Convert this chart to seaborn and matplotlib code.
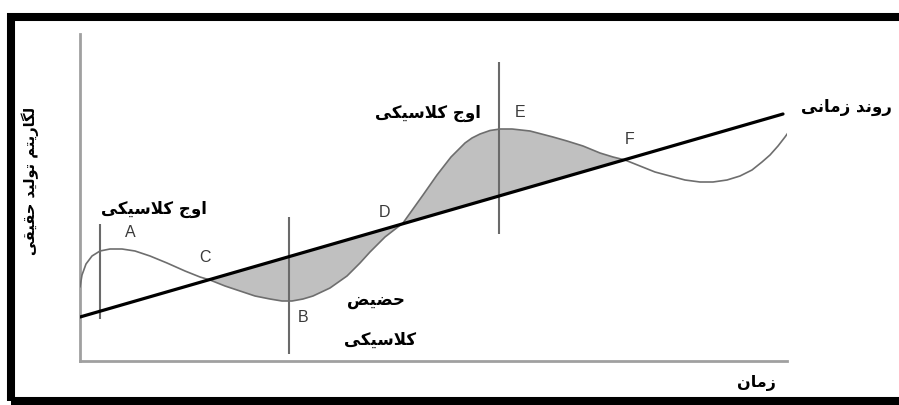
import numpy as np
import pandas as pd
import matplotlib
matplotlib.use("Agg")
import matplotlib.pyplot as plt
from matplotlib.patches import Rectangle
import seaborn as sns

# ---------------- data (arbitrary units) ----------------
cycle_time = [0, 2, 6, 12, 20, 30, 42, 55, 70, 87, 105, 120, 130, 145, 160, 175, 190,
              202, 212, 223, 233, 250, 267, 280, 290, 305, 323, 333, 343, 350, 357, 364,
              371, 378, 385, 392, 400, 410, 420, 432, 450, 473, 487, 503, 520, 533, 545,
              560, 575, 590, 605, 620, 633, 647, 660, 672, 682, 690, 698, 705, 710]
cycle_level = [74, 86, 97, 105, 110, 112, 112, 110, 105, 98, 90, 84, 81, 75, 70, 65, 62,
               60, 60, 62, 65, 73, 85, 98, 109, 124, 138, 152, 166, 176, 186, 195,
               204, 211, 218, 223, 227, 230.5, 232, 232, 230, 224, 220, 215, 208, 204, 201,
               195, 189, 185, 181, 179, 179, 181, 185, 191, 199, 206, 215, 224, 231]
trend_time = [0, 703]
trend_level = [44, 247]
shade_start = 12   # index of point C
shade_end = 46     # index of point F

turn_time = [20, 209, 419]          # vertical markers at A, B, E
turn_low = [42, 7, 127]
turn_high = [137, 144, 299]

point_labels = ["A", "C", "B", "D", "E", "F"]
point_time = [50, 125, 223, 305, 440, 550]
point_level = [129, 104, 44, 149, 249, 222]

peak_text = "اوج کلاسیکی"
trough_text_1 = "حضیض"
trough_text_2 = "کلاسیکی"
trend_text = "روند زمانی"
x_text = "زمان"
y_text = "لگاریتم تولید حقیقی"

# ---------------- minimal Persian shaping for matplotlib ----------------
FORMS = {
    'ا': ('\uFE8D', '\uFE8E', None, None),
    'د': ('\uFEA9', '\uFEAA', None, None),
    'ر': ('\uFEAD', '\uFEAE', None, None),
    'ز': ('\uFEAF', '\uFEB0', None, None),
    'و': ('\uFEED', '\uFEEE', None, None),
    'ت': ('\uFE95', '\uFE96', '\uFE97', '\uFE98'),
    'ج': ('\uFE9D', '\uFE9E', '\uFE9F', '\uFEA0'),
    'ح': ('\uFEA1', '\uFEA2', '\uFEA3', '\uFEA4'),
    'س': ('\uFEB1', '\uFEB2', '\uFEB3', '\uFEB4'),
    'ض': ('\uFEBD', '\uFEBE', '\uFEBF', '\uFEC0'),
    'ق': ('\uFED5', '\uFED6', '\uFED7', '\uFED8'),
    'ل': ('\uFEDD', '\uFEDE', '\uFEDF', '\uFEE0'),
    'م': ('\uFEE1', '\uFEE2', '\uFEE3', '\uFEE4'),
    'ن': ('\uFEE5', '\uFEE6', '\uFEE7', '\uFEE8'),
    'ک': ('\uFB8E', '\uFB8F', '\uFB90', '\uFB91'),
    'گ': ('\uFB92', '\uFB93', '\uFB94', '\uFB95'),
    'ی': ('\uFBFC', '\uFBFD', '\uFBFE', '\uFBFF'),
}


def fa(text):
    chars = list(text)
    n = len(chars)
    out = []
    i = 0
    while i < n:
        c = chars[i]
        if c not in FORMS:
            out.append(c)
            i += 1
            continue
        prev = chars[i - 1] if i > 0 else None
        join_prev = prev in FORMS and FORMS[prev][2] is not None
        if c == 'ل' and i + 1 < n and chars[i + 1] == 'ا':
            out.append('\uFEFC' if join_prev else '\uFEFB')
            i += 2
            continue
        nxt = chars[i + 1] if i + 1 < n else None
        iso, fin, ini, med = FORMS[c]
        join_next = ini is not None and nxt in FORMS
        if join_prev and join_next:
            out.append(med)
        elif join_prev:
            out.append(fin)
        elif join_next:
            out.append(ini)
        else:
            out.append(iso)
        i += 1
    return ''.join(reversed(out))


# ---------------- drawing ----------------
sns.set_theme(style="white")
plt.rcParams['font.family'] = ['DejaVu Sans']

fig = plt.figure(figsize=(8.99, 4.06), dpi=100)
fig.patch.set_facecolor("white")
ax = fig.add_axes([80 / 899, 44 / 406, 707 / 899, 327 / 406])
ax.set_xlim(0, 707)
ax.set_ylim(0, 327)
ax.set_facecolor("none")

cycle = pd.DataFrame({"time": cycle_time, "level": cycle_level})
trend = pd.DataFrame({"time": trend_time, "level": trend_level})

# shaded gap between cycle and trend (C .. F)
seg = cycle.iloc[shade_start:shade_end + 1]
ax.fill(seg["time"], seg["level"], color="#c0c0c0", lw=0, zorder=1)

sns.lineplot(data=cycle, x="time", y="level", ax=ax, color="#6e6e6e",
             linewidth=1.2, estimator=None, sort=False, zorder=3)
sns.lineplot(data=trend, x="time", y="level", ax=ax, color="black",
             linewidth=2.3, estimator=None, sort=False, zorder=4)
ax.vlines(turn_time, turn_low, turn_high, colors="#6a6a6a", linewidth=1.5, zorder=2)

for lab, t, l in zip(point_labels, point_time, point_level):
    ax.text(t, l, lab, fontsize=11.5, color="#3a3a3a", family="Liberation Sans",
            ha="center", va="center", zorder=5)

pkw = dict(fontweight="bold", color="black", ha="center", va="center",
           clip_on=False, zorder=5)
ax.text(74, 153, fa(peak_text), fontsize=12, **pkw)
ax.text(348, 249, fa(peak_text), fontsize=12, **pkw)
ax.text(296, 62, fa(trough_text_1), fontsize=12, **pkw)
ax.text(300, 22, fa(trough_text_2), fontsize=12, **pkw)
ax.text(766, 255, fa(trend_text), fontsize=12, **pkw)
ax.text(676, -21, fa(x_text), fontsize=11.5, **pkw)
ax.text(-50, 181, fa(y_text), rotation=90, fontsize=10.5, **pkw)

ax.set_xlabel("")
ax.set_ylabel("")
ax.set_xticks([])
ax.set_yticks([])
for s in ["top", "right"]:
    ax.spines[s].set_visible(False)
for s in ["left", "bottom"]:
    ax.spines[s].set_color("#a0a0a0")
    ax.spines[s].set_linewidth(2.0)

# thick outer frame
frame = Rectangle((11 / 899, 4 / 406), (901 - 11) / 899, (402 - 18) / 406,
                  transform=fig.transFigure, fill=False, edgecolor="black",
                  linewidth=5.8, clip_on=False)
fig.add_artist(frame)

fig.savefig("out.png", dpi=100)
